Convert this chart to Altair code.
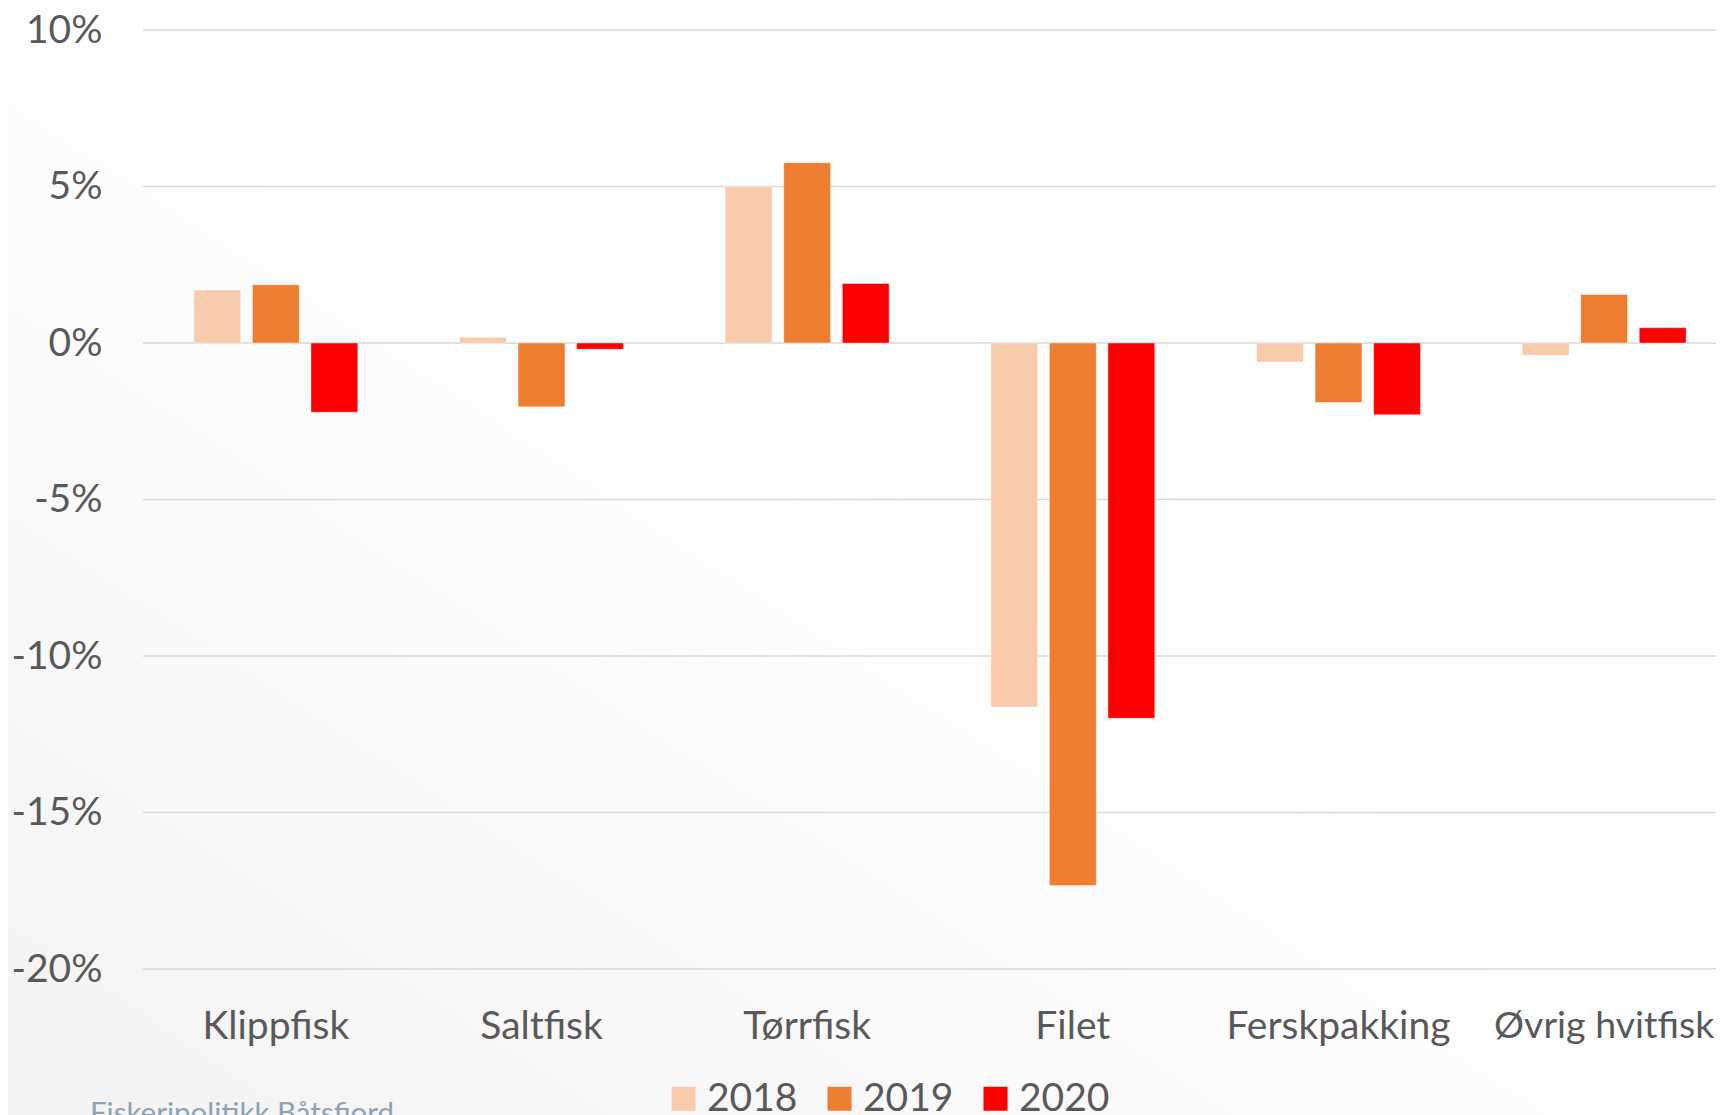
import altair as alt
import pandas as pd

categories = ["Klippfisk", "Saltfisk", "Tørrfisk", "Filet", "Ferskpakking", "Øvrig hvitfisk"]
years = ["2018", "2019", "2020"]
v2018 = [1.69, 0.18, 4.99, -11.63, -0.61, -0.39]
v2019 = [1.86, -2.04, 5.76, -17.33, -1.90, 1.55]
v2020 = [-2.21, -0.20, 1.90, -11.99, -2.29, 0.49]
colors = ["#F8CBAD", "#ED7D31", "#FF0000"]
y_ticks = [0.10, 0.05, 0.0, -0.05, -0.10, -0.15, -0.20]
watermark = "Fiskeripolitikk Båtsfjord"

rows = []
for yr, vals in zip(years, [v2018, v2019, v2020]):
    for c, v in zip(categories, vals):
        rows.append({"Kategori": c, "År": yr, "Endring": v / 100})
df = pd.DataFrame(rows)
grid_df = pd.DataFrame({"Endring": y_ticks})

FONT = "Lato"
TEXT = "#595959"
PLOT_W = 1573
PLOT_H = 939

yscale = alt.Scale(domain=[-0.2, 0.1], nice=False, zero=False)

bg = alt.Chart(pd.DataFrame({"k": [0]})).mark_rect(
    color=alt.Gradient(
        gradient="linear", x1=1, y1=0, x2=0, y2=1,
        stops=[alt.GradientStop(color="#FFFFFF", offset=0),
               alt.GradientStop(color="#FFFFFF", offset=0.45),
               alt.GradientStop(color="#F3F3F3", offset=1)]
    )
).encode(x=alt.value(-135), x2=alt.value(PLOT_W), y=alt.value(-22), y2=alt.value(1100))

grid = alt.Chart(grid_df).mark_rule(color="#D9D9D9", strokeWidth=1.5).encode(
    y=alt.Y("Endring:Q", scale=yscale),
    x=alt.value(0), x2=alt.value(PLOT_W),
)

last_label_size = {"condition": {"test": "datum.value == '" + categories[-1] + "'", "value": 37.5},
                   "value": 39}

bars = alt.Chart(df).mark_bar(stroke="white", strokeOpacity=0.4, strokeWidth=1).encode(
    x=alt.X("Kategori:N", sort=categories,
            scale=alt.Scale(range=[0, 1594], paddingInner=0.383, paddingOuter=0.1915),
            axis=alt.Axis(title=None, labelAngle=0, domain=False, ticks=False, grid=False,
                          labelPadding=38, labelFontSize=last_label_size, labelColor=TEXT,
                          labelFont=FONT, labelLimit=500, zindex=1)),
    xOffset=alt.XOffset("År:N", sort=years, scale=alt.Scale(paddingInner=0.2, paddingOuter=0)),
    y=alt.Y("Endring:Q", scale=yscale,
            axis=alt.Axis(title=None, values=y_ticks, domain=False, ticks=False, grid=False,
                          labelExpr="replace(format(datum.value, '.0%'), '\u2212', '-')",
                          labelPadding=41, labelFontSize=39, labelColor=TEXT, labelFont=FONT,
                          zindex=1)),
    color=alt.Color("År:N", scale=alt.Scale(domain=years, range=colors),
                    legend=alt.Legend(title=None, orient="none", legendX=521, legendY=1049,
                                      direction="horizontal", symbolType="square",
                                      symbolSize=576, symbolStrokeWidth=0,
                                      labelFontSize=39, labelFont=FONT, labelColor=TEXT,
                                      labelOffset=4, columnPadding=22, zindex=1)),
)

wm = alt.Chart(pd.DataFrame({"t": [watermark]})).mark_text(
    align="left", baseline="top", fontSize=29.5, color="#8DA3B5", font=FONT
).encode(x=alt.value(-53), y=alt.value(1070), text="t:N")

chart = alt.layer(bg, grid, bars, wm).properties(
    width=PLOT_W, height=PLOT_H,
    autosize=alt.AutoSizeParams(type="none"),
    padding={"left": 135, "top": 22, "right": 0, "bottom": 146},
).configure_view(stroke=None)

chart.save("out.html", embed_options={"renderer": "svg", "actions": False})
